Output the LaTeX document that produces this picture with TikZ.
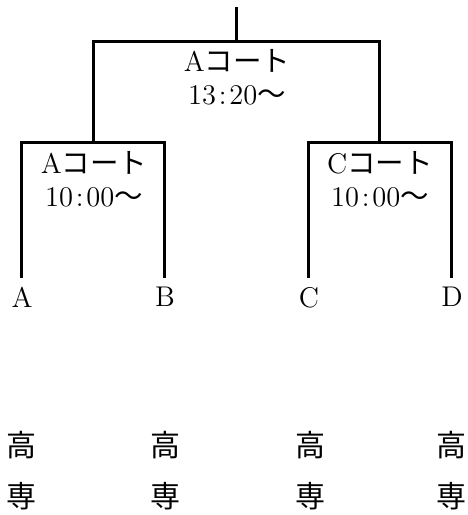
\documentclass[tikz,border=0pt]{standalone}
\usepackage{fontspec}
\newfontfamily\cjk{Noto Sans CJK JP}
\usetikzlibrary{positioning}
\newcommand{\tcolon}{\kern0.1em:\kern0.1em}

\begin{document}
\begin{tikzpicture}[x=0.4pt,y=-0.4pt]
	\tikzset{bracket/.style={black,line width=1.2pt},
		team/.style={anchor=north,inner sep=3.6pt,font=\fontsize{11.4pt}{13pt}\selectfont},
		school/.style={align=center,inner sep=0pt,font=\fontsize{12pt}{20.4pt}\cjk},
		court/.style={anchor=north,align=center,inner sep=0pt,font=\fontsize{11.4pt}{13.2pt}\selectfont}}
	
	% Page size
	\useasboundingbox (0,0) rectangle (468,515);
	
	% Junctions of the bracket
	\coordinate (root) at (237,7);
	\coordinate (final) at (237,41);
	\coordinate (semiL) at (94,142);
	\coordinate (semiR) at (380,142);
	
	% Teams
	\node[team] (A) at (22,278){A};
	\node[team] (B) at (165,278){B};
	\node[team] (C) at (309,278){C};
	\node[team] (D) at (452,278){D};
	
	% Schools under the teams
	\node[school] (kA) at (22,471){高\\専};
	\node[school] (kB) at (166,471){高\\専};
	\node[school] (kC) at (310,471){高\\専};
	\node[school] (kD) at (452,471){高\\専};
	
	% Lines of the bracket
	\draw[bracket] (root) -- (final);
	\draw[bracket] (semiL) |- (final) -| (semiR);
	\draw[bracket] (A.north) |- (semiL) -| (B.north);
	\draw[bracket] (C.north) |- (semiR) -| (D.north);
	
	% Courts and times
	\node[court] (cFinal) at (237,49){A{\cjk コート}\\13\tcolon20{\cjk ～}};
	\node[court] (cL) at (94,151){A{\cjk コート}\\10\tcolon00{\cjk ～}};
	\node[court] (cR) at (380,151){C{\cjk コート}\\10\tcolon00{\cjk ～}};
	
\end{tikzpicture}
\end{document}
